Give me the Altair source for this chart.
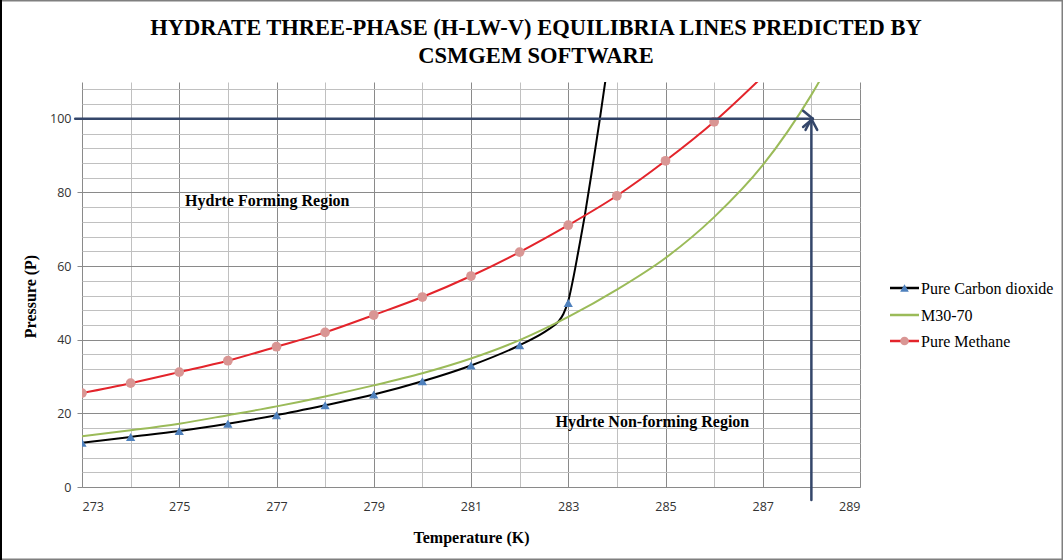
import altair as alt
import pandas as pd

# ---------------- text ----------------
title_lines = ["HYDRATE THREE-PHASE (H-LW-V) EQUILIBRIA LINES PREDICTED BY", "CSMGEM SOFTWARE"]
x_title = "Temperature (K)"
y_title = "Pressure (P)"
series_names = ["Pure Carbon dioxide", "M30-70", "Pure Methane"]
region_labels = ["Hydrte Forming Region", "Hydrte Non-forming Region"]
region_T = [276.81, 284.73]
region_P = [77.7, 17.7]

# ---------------- data ----------------
# Pure Carbon dioxide: marker points
co2_T = [273, 274, 275, 276, 277, 278, 279, 280, 281, 282, 283]
co2_P = [12.0, 13.6, 15.2, 17.2, 19.5, 22.2, 25.1, 28.7, 33.0, 38.5, 50.0]
# Pure Carbon dioxide: drawn curve
co2_line_T = [273, 274, 275, 276, 277, 278, 279, 280, 281, 282, 282.5, 282.7, 282.8, 282.9,
              283.0, 283.1, 283.2, 283.35, 283.5, 283.65, 283.76, 284.0]
co2_line_P = [12.0, 13.6, 15.2, 17.2, 19.5, 22.2, 25.1, 28.7, 33.0, 38.5, 42.0, 43.8, 45.0, 47.0,
              50.5, 56.5, 63.5, 74.5, 87.0, 100.0, 110.0, 132.0]

# M30-70: line only
m30_T = [273, 274, 275, 276, 277, 278, 279, 280, 281, 282, 283, 284, 285, 286, 287, 288, 289]
m30_P = [13.8, 15.4, 17.2, 19.5, 21.9, 24.6, 27.6, 30.9, 34.9, 39.9, 46.2, 53.6, 62.2, 73.3, 87.4, 106.5, 131.0]

# Pure Methane
ch4_T = [273, 274, 275, 276, 277, 278, 279, 280, 281, 282, 283, 284, 285, 286, 287]
ch4_P = [25.5, 28.2, 31.2, 34.3, 38.1, 42.0, 46.7, 51.6, 57.3, 63.8, 71.1, 79.1, 88.6, 99.2, 111.5]

# axis values
x_values = list(range(273, 290))
y_values = list(range(0, 109, 4))

# arrow annotation segments (data coordinates)
arrow_T1 = [272.86, 288.0, 287.83, 287.83, 287.88, 288.12]
arrow_T2 = [288.03, 288.0, 288.03, 288.03, 288.0, 288.0]
arrow_P1 = [100.0, -3.5, 102.2, 97.8, 97.0, 97.0]
arrow_P2 = [100.0, 100.0, 100.0, 100.0, 100.0, 100.0]

# ---------------- styling ----------------
colors = ["#000000", "#9BBB59", "#E3242B"]
marker_colors = ["#4F81BD", None, "#D99694"]
serif = "Liberation Serif"
sans = "Open Sans"
arrow_color = "#34466A"

# ---------------- tables ----------------
lines_df = pd.concat([
    pd.DataFrame({"T": co2_line_T, "P": co2_line_P, "s": series_names[0]}),
    pd.DataFrame({"T": m30_T, "P": m30_P, "s": series_names[1]}),
    pd.DataFrame({"T": ch4_T, "P": ch4_P, "s": series_names[2]}),
])
co2_df = pd.DataFrame({"T": co2_T, "P": co2_P})
ch4_df = pd.DataFrame({"T": ch4_T, "P": ch4_P})
arrow_df = pd.DataFrame({"T1": arrow_T1, "T2": arrow_T2, "P1": arrow_P1, "P2": arrow_P2})
region_df = pd.DataFrame({"T": region_T, "P": region_P, "label": region_labels})

xscale = alt.Scale(domain=[273, 289], nice=False, zero=False)
yscale = alt.Scale(domain=[0, 110], nice=False, zero=False)

x_axis = alt.Axis(
    values=x_values,
    tickCount=100,
    labelExpr="datum.value % 2 == 1 ? datum.label : ''",
    format="d",
    grid=True,
    gridColor=alt.condition("datum.value % 2 == 1", alt.value("#8A8A8A"), alt.value("#C0C0C0")),
    gridWidth=1,
    ticks=False,
    domainColor="#8A8A8A",
    labelOverlap=False,
    labelFont=sans, labelFontSize=12.5, labelColor="#333333", labelPadding=13,
    title=x_title, titleFont=serif, titleFontSize=16, titleFontWeight="bold",
    titleColor="#000000", titleBaseline="middle", titleY=50,
)
y_axis = alt.Axis(
    values=y_values,
    tickCount=100,
    labelExpr="datum.value % 20 == 0 ? datum.label : ''",
    format="d",
    grid=True,
    gridColor=alt.condition("datum.value % 20 == 0", alt.value("#8A8A8A"), alt.value("#C0C0C0")),
    gridWidth=1,
    tickSize=5,
    tickColor=alt.condition("datum.value % 20 == 0", alt.value("#8A8A8A"), alt.value("transparent")),
    domain=False,
    labelOverlap=False,
    labelFont=sans, labelFontSize=12.5, labelColor="#333333", labelPadding=6,
    title=y_title, titleFont=serif, titleFontSize=16, titleFontWeight="bold",
    titleColor="#000000", titleBaseline="middle", titleX=-52, titleY=214,
)

base_x = alt.X("T:Q", scale=xscale, axis=x_axis)
base_y = alt.Y("P:Q", scale=yscale, axis=y_axis)

lines = alt.Chart(lines_df).mark_line(interpolate="monotone", strokeWidth=2, clip=True).encode(
    x=base_x, y=base_y,
    color=alt.Color("s:N", scale=alt.Scale(domain=series_names, range=colors), legend=None),
    detail="s:N",
)
co2_pts = alt.Chart(co2_df).mark_point(shape="triangle-up", filled=True, size=85, opacity=1,
                                       color=marker_colors[0], clip=True).encode(
    x=alt.X("T:Q", scale=xscale), y=alt.Y("P:Q", scale=yscale))
ch4_pts = alt.Chart(ch4_df).mark_point(shape="circle", filled=True, size=95, opacity=1,
                                       color=marker_colors[2], clip=True).encode(
    x=alt.X("T:Q", scale=xscale), y=alt.Y("P:Q", scale=yscale))

regions = alt.Chart(region_df).mark_text(font=serif, fontSize=16, fontWeight="bold",
                                         color="#000000", align="center", baseline="middle").encode(
    x=alt.X("T:Q", scale=xscale), y=alt.Y("P:Q", scale=yscale), text="label:N")

arrows = alt.Chart(arrow_df).mark_rule(color=arrow_color, strokeWidth=2.5, strokeCap="round").encode(
    x=alt.X("T1:Q", scale=xscale), x2="T2:Q",
    y=alt.Y("P1:Q", scale=yscale), y2="P2:Q")

# title (two lines)
title = alt.Chart(pd.DataFrame({"t": ["\n".join(title_lines)]})).mark_text(
    font=serif, fontSize=22.5, fontWeight="bold", color="#000000", align="center",
    baseline="alphabetic", lineBreak="\n", lineHeight=27.5,
).encode(x=alt.value(454), y=alt.value(-47), text="t:N")

# manual legend
legend_layers = []
legend_rows = [206, 233, 259]
for i, name in enumerate(series_names):
    one = pd.DataFrame({"name": [name]})
    legend_layers.append(alt.Chart(one).mark_rule(color=colors[i], strokeWidth=2.5).encode(
        x=alt.value(808), x2=alt.value(837), y=alt.value(legend_rows[i])))
    if marker_colors[i] is not None:
        shp = "triangle-up" if i == 0 else "circle"
        legend_layers.append(alt.Chart(one).mark_point(shape=shp, filled=True, size=75, opacity=1,
                                                       color=marker_colors[i]).encode(
            x=alt.value(822.5), y=alt.value(legend_rows[i])))
    legend_layers.append(alt.Chart(one).mark_text(font=serif, fontSize=16, color="#000000",
                                                  align="left", baseline="middle").encode(
        x=alt.value(839), y=alt.value(legend_rows[i] + 1), text="name:N"))

border = alt.Chart(pd.DataFrame({"b": [1]})).mark_rect(fillOpacity=0, stroke="#7F7F7F", strokeWidth=1.5).encode(
    x=alt.value(-81.25), x2=alt.value(980.25), y=alt.value(-81.25), y2=alt.value(477.25))
left_edge = alt.Chart(pd.DataFrame({"b": [1]})).mark_rule(color="#000000", strokeWidth=2).encode(
    x=alt.value(-81), y=alt.value(-82), y2=alt.value(478))

chart = alt.layer(
    lines, regions, co2_pts, ch4_pts, arrows, title, *legend_layers, border, left_edge
).properties(
    width=778, height=405,
    autosize=alt.AutoSizeParams(type="none"),
    padding={"left": 82, "top": 82, "right": 203, "bottom": 73},
    background="#FFFFFF",
).configure_view(stroke=None)

chart.save("out.html", embed_options={"renderer": "svg", "actions": False})
